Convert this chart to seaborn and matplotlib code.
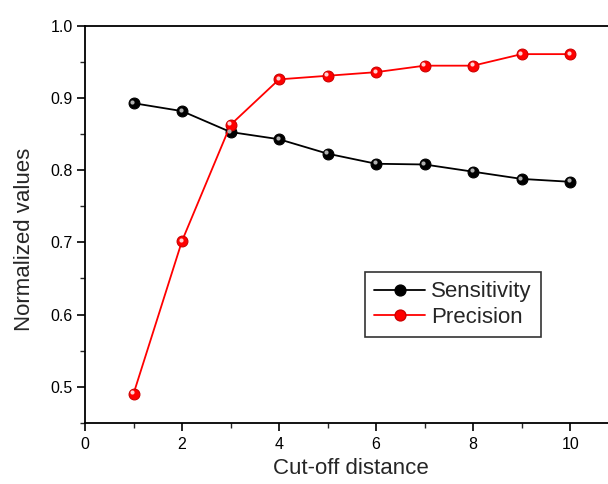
import matplotlib
matplotlib.use("Agg")
import matplotlib.pyplot as plt
import matplotlib.transforms as mtransforms
from matplotlib.lines import Line2D
from matplotlib.ticker import FixedLocator
import seaborn as sns
import pandas as pd

cutoff = [1, 2, 3, 4, 5, 6, 7, 8, 9, 10]
sensitivity = [0.893, 0.882, 0.853, 0.843, 0.823, 0.809, 0.808, 0.798, 0.788, 0.784]
precision = [0.490, 0.702, 0.863, 0.926, 0.931, 0.936, 0.945, 0.945, 0.961, 0.961]
series_names = ["Sensitivity", "Precision"]
x_major = [0, 2, 4, 6, 8, 10]
x_minor = [1, 3, 5, 7, 9]
y_major = [0.5, 0.6, 0.7, 0.8, 0.9, 1.0]
y_minor = [0.45, 0.55, 0.65, 0.75, 0.85, 0.95]
colors = {"Sensitivity": "#000000", "Precision": "#ff0000"}
edges = {"Sensitivity": "#000000", "Precision": "#cc0000"}
highlights = {"Sensitivity": "#b0b0b0", "Precision": "#ffd0d0"}

df = pd.DataFrame({
    "x": cutoff * 2,
    "y": sensitivity + precision,
    "series": ["Sensitivity"] * len(cutoff) + ["Precision"] * len(cutoff),
})

sns.set_style("ticks")
plt.rcParams["font.family"] = ["Liberation Sans", "DejaVu Sans"]

W, H = 608, 484
L, R, T, B = 85, 608, 26, 422.7
fig = plt.figure(figsize=(W / 100, H / 100), dpi=100)
ax = fig.add_axes([L / W, 1 - B / H, (R - L) / W, (B - T) / H])

sns.lineplot(data=df, x="x", y="y", hue="series", palette=colors,
             hue_order=series_names, marker="o", markersize=7.8,
             markeredgewidth=0.8, linewidth=1.3, ax=ax, legend=False)
for line, name in zip(ax.lines, series_names):
    line.set_markeredgecolor(edges[name])

# sphere highlights
off = mtransforms.offset_copy(ax.transData, fig=fig, x=-1.2, y=1.4, units="dots")
for name, vals in (("Sensitivity", sensitivity), ("Precision", precision)):
    ax.plot(cutoff, vals, linestyle="none", marker="o", markersize=3,
            markeredgewidth=0, color=highlights[name], transform=off, zorder=5)

ax.set_xlim(0, 10.78)
ax.set_ylim(0.45, 1.0)
ax.xaxis.set_major_locator(FixedLocator(x_major))
ax.xaxis.set_minor_locator(FixedLocator(x_minor))
ax.yaxis.set_major_locator(FixedLocator(y_major))
ax.yaxis.set_minor_locator(FixedLocator(y_minor))
ax.set_xticklabels([str(v) for v in x_major])
ax.set_yticklabels([f"{v:.1f}" for v in y_major])
ax.tick_params(which="major", direction="out", length=6, width=1.2, labelsize=11.5, colors="#000000")
ax.tick_params(which="minor", direction="out", length=3.5, width=1.0)
ax.tick_params(axis="x", which="major", pad=4)
ax.tick_params(axis="y", which="major", pad=3)
for s in ("left", "bottom", "top"):
    ax.spines[s].set_linewidth(1.3)
    ax.spines[s].set_color("#000000")
ax.spines["right"].set_visible(False)

ax.set_xlabel("Cut-off distance", fontsize=16)
ax.set_ylabel("Normalized values", fontsize=16)
ax.xaxis.label.set_verticalalignment("center")
ax.yaxis.label.set_verticalalignment("center")
ax.xaxis.set_label_coords((351 - L) / (R - L), -(469 - B) / (B - T))
ax.yaxis.set_label_coords(-(L - 25) / (R - L), (B - 239.5) / (B - T))

handles = [Line2D([], [], color=colors[n], marker="o", markersize=7.8,
                  markeredgecolor=edges[n], linewidth=1.3) for n in series_names]
leg = ax.legend(handles, series_names, loc="upper left",
                bbox_to_anchor=((365 - L) / (R - L), (B - 272) / (B - T)),
                borderaxespad=0, fontsize=16, frameon=True, fancybox=False,
                handlelength=2.3, handletextpad=0.25, borderpad=0.42, labelspacing=0.2)
leg.get_frame().set_edgecolor("#000000")
leg.get_frame().set_linewidth(1.2)

fig.savefig("out.png", dpi=100)
